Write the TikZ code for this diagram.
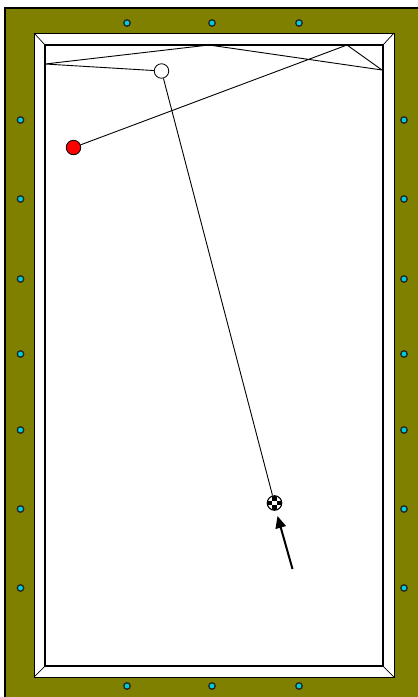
\documentclass[tikz,border=0pt]{standalone}
\usetikzlibrary{arrows.meta}
\definecolor{felt}{RGB}{128,128,0}
\definecolor{dotc}{RGB}{0,205,215}
\tikzset{
  dot/.style={circle,draw=black!85,fill=dotc,line width=1.3pt,minimum size=6.5pt,inner sep=0pt},
  ball/.style={circle,draw=black,line width=0.8pt,minimum size=14.5pt,inner sep=0pt},
  shot/.style={draw=black,line width=0.9pt},
}
\begin{document}
\begin{tikzpicture}[x=1pt,y=-1pt]
\useasboundingbox (0,0) rectangle (418,697);
\fill[white] (0,0) rectangle (418,697);
\fill[felt] (5,8) rectangle (418,697);
\draw[black,line width=1.5pt] (5,697) -- (5,8) -- (418,8);
% cushion
\draw[fill=white,line width=0.9pt] (34,33) rectangle (394,677);
\draw[fill=white,line width=1.6pt] (45,45) rectangle (383,666);
\coordinate (oa) at (34,33); \coordinate (ia) at (45,45);
\coordinate (ob) at (394,33); \coordinate (ib) at (383,45);
\coordinate (oc) at (394,677); \coordinate (ic) at (383,666);
\coordinate (od) at (34,677); \coordinate (id) at (45,666);
\draw[line width=0.7pt] (oa)--(ia) (ob)--(ib) (oc)--(ic) (od)--(id);
% diamonds
\foreach \n/\x in {t1/127,t2/212,t3/299}{\node[dot] (\n) at (\x,23) {};}
\foreach \n/\x in {b1/127,b2/212,b3/299}{\node[dot] (\n) at (\x,686) {};}
\foreach \n/\y in {l1/120,l2/199,l3/279,l4/354,l5/430,l6/509,l7/588}{\node[dot] (\n) at (20.5,\y) {};}
\foreach \n/\y in {r1/120,r2/199,r3/279,r4/354,r5/430,r6/509,r7/588}{\node[dot] (\n) at (404,\y) {};}
% balls
\node[ball,fill=red,minimum size=14.5pt] (red) at (73.5,147.5) {};
\node[ball,fill=white] (white) at (161.5,71) {};
\node[ball,fill=white,line width=1.1pt] (cue) at (274.5,503) {};
\begin{scope}
\clip (274.5,503) circle (7pt);
\fill[black] (272.3,496) rectangle (276.7,500.7);
\fill[black] (272.3,505.3) rectangle (276.7,510);
\fill[black] (267.5,500.8) rectangle (272.2,505.2);
\fill[black] (276.8,500.8) rectangle (281.5,505.2);
\end{scope}
% path
\coordinate (p1) at (347,45);
\coordinate (p2) at (382,70);
\coordinate (p3) at (209,45);
\coordinate (p4) at (45,64);
\draw[shot] (red) -- (p1) -- (p2) -- (p3) -- (p4) -- (white);
\draw[shot] (white) -- (cue);
% cue arrow
\coordinate (as) at (292.5,569);
\coordinate (ae) at (277.5,516);
\draw[line width=2pt,-{Triangle[length=12pt,width=10.5pt]}] (as) -- (ae);
\end{tikzpicture}
\end{document}
